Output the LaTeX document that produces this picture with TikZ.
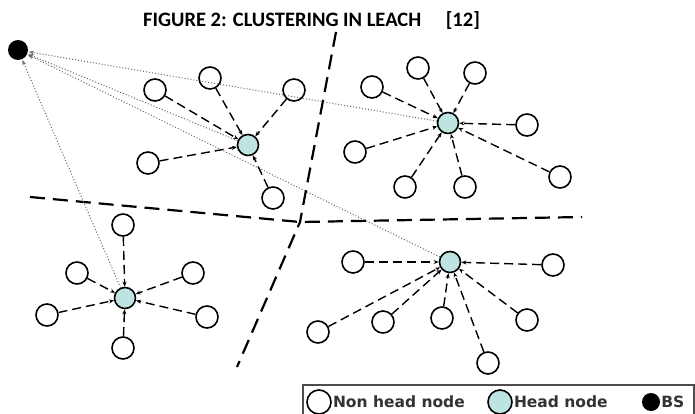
\documentclass[tikz,border=0pt]{standalone}
\usepackage{fontspec}
\setmainfont{Carlito}
\newfontfamily\legendfont{DejaVu Sans}
\usetikzlibrary{arrows.meta}
\definecolor{headfill}{RGB}{190,228,226}

\begin{document}
\begin{tikzpicture} [x=1pt, y=-1pt,
    member/.style={circle, draw, line width=1.6pt, minimum size=22pt, inner sep=0pt},
    head/.style={member, fill=headfill, minimum size=21pt},
    basestation/.style={circle, fill=black, minimum size=20pt, inner sep=0pt},
    link/.style={line width=1.4pt, dash pattern=on 9pt off 5pt, -{Stealth[length=5pt,width=4pt]}},
    tobs/.style={line width=1pt, black!60, dotted, -{Stealth[length=5pt,width=4pt]}, shorten >=1pt},
    partition/.style={line width=2.2pt, dash pattern=on 15pt off 8pt}]
  \useasboundingbox (0,0) rectangle (695,414);

  % title
  \node (title) [anchor=base west, inner sep=0pt, font=\bfseries\fontsize{20.5}{23}\selectfont] at (143,27) {FIGURE 2: CLUSTERING IN LEACH\hspace{1.2em}[12]};

  % partitions
  \draw[partition] (336,32) -- (300,222) -- (237,367);
  \draw[partition] (30,197) -- (300,222) -- (582,217);

  % base station and cluster heads
  \node (bs) [basestation] at (18,50) {};
  \node (h1) [head] at (248,145) {}; \node (h2) [head] at (448,123) {};
  \node (h3) [head] at (125,298) {}; \node (h4) [head] at (450,262) {};

  % head to base station
  \draw[tobs] (h2) -- (bs); \draw[tobs] (h1) -- (bs);
  \draw[tobs] (h4) -- (bs); \draw[tobs] (h3) -- (bs);

  % cluster 1
  \foreach \i/\p in {1/{(155,90)}, 2/{(210,78)}, 3/{(294,90)}, 4/{(148,163)}, 5/{(273,198)}}
    { \node (a\i) [member] at \p {}; \draw[link] (a\i) -- (h1); }
  % cluster 2
  \foreach \i/\p in {1/{(372,87)}, 2/{(418,68)}, 3/{(475,73)}, 4/{(527,125)}, 5/{(355,152)}, 6/{(405,187)}, 7/{(465,187)}, 8/{(560,177)}}
    { \node (b\i) [member] at \p {}; \draw[link] (b\i) -- (h2); }
  % cluster 3
  \foreach \i/\p in {1/{(123,225)}, 2/{(77,273)}, 3/{(193,273)}, 4/{(47,315)}, 5/{(207,317)}, 6/{(123,348)}}
    { \node (c\i) [member] at \p {}; \draw[link] (c\i) -- (h3); }
  % cluster 4
  \foreach \i/\p in {1/{(353,262)}, 2/{(553,265)}, 3/{(318,332)}, 4/{(383,322)}, 5/{(442,318)}, 6/{(527,320)}, 7/{(488,363)}}
    { \node (d\i) [member] at \p {}; \draw[link] (d\i) -- (h4); }

  % legend
  \draw[line width=1.2pt, black!70] (303,385) rectangle (694,418);
  \node (lmember) [member, minimum size=24pt] at (319,402) {};
  \node (lhead) [head, minimum size=24pt] at (500,402) {};
  \node (lbs) [basestation, minimum size=18pt] at (651,402) {};
  \begin{scope}[font=\legendfont\bfseries\fontsize{15.5}{18}\selectfont, text=black!80, inner sep=1pt]
    \node (tmember) [anchor=west] at (lmember.east) {Non head node};
    \node (thead) [anchor=west] at (lhead.east) {Head node};
    \node (tbs) [anchor=west] at (lbs.east) {BS};
  \end{scope}
\end{tikzpicture}
\end{document}
